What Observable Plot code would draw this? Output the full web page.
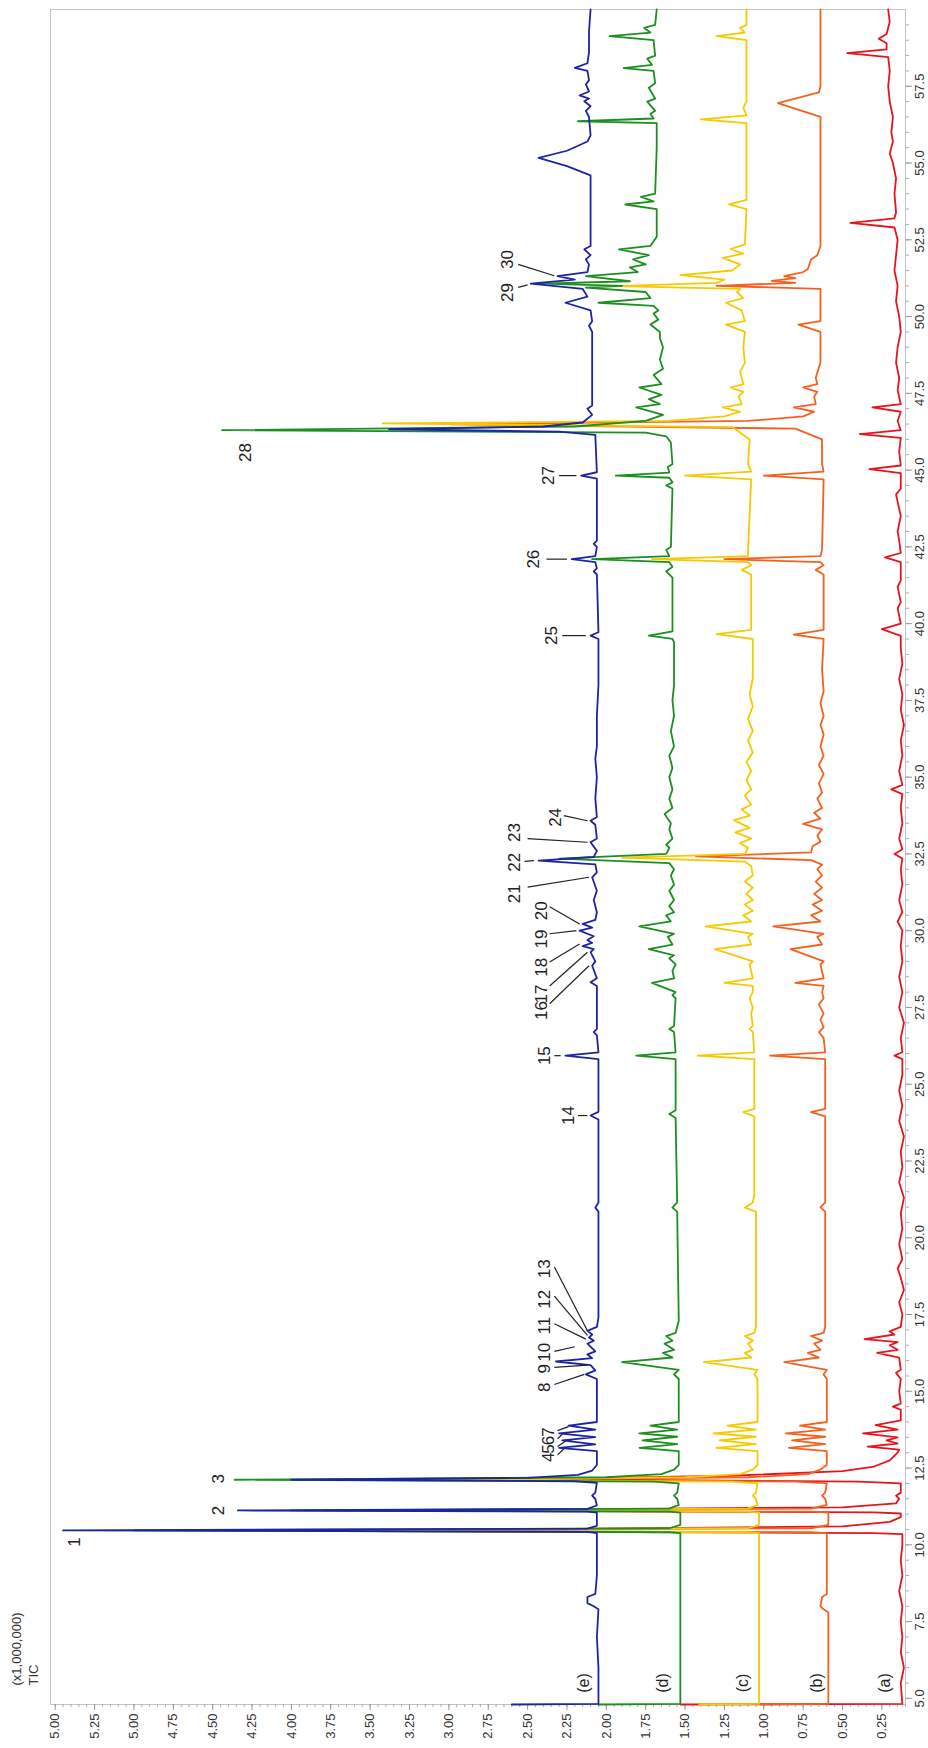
<!DOCTYPE html>
<html><head><meta charset="utf-8">
<script src="https://cdn.jsdelivr.net/npm/d3@7"></script>
<script src="https://cdn.jsdelivr.net/npm/@observablehq/plot@0.6"></script>
<style>body{margin:0;background:#fff;} svg{display:block;}</style>
</head><body><div id="chart"></div>
<script>
// Retention time (min) and TIC intensity (x1,000,000) pairs: [time, intensity]
const traceA = [[4.80,1.53],[4.82,0.12],[5.5,0.13],[6.0,0.11],[6.5,0.13],[7.0,0.12],[7.5,0.13],[8.0,0.12],[8.5,0.14],[9.0,0.12],[9.5,0.13],[10.0,0.12],[10.35,0.12],
[10.38,0.3],[10.45,3.5],[10.6,0.5],[10.75,0.2],[10.9,0.13],[11.02,0.13],
[11.06,0.3],[11.12,3.3],[11.22,0.5],[11.35,0.16],[11.5,0.14],[11.6,0.16],[11.7,0.13],[12.0,0.13],
[12.06,0.4],[12.14,2.47],[12.25,1.2],[12.4,0.5],[12.55,0.3],[12.75,0.2],[13.0,0.15],
[13.1,0.14],[13.2,0.34],[13.3,0.15],[13.4,0.22],[13.5,0.15],[13.63,0.37],[13.75,0.15],[13.9,0.29],[14.05,0.13],[14.4,0.13],[14.5,0.18],[14.6,0.13],[15.0,0.14],[15.4,0.13],[15.6,0.16],[15.7,0.13],
[16.1,0.14],[16.25,0.28],[16.35,0.15],[16.5,0.2],[16.6,0.15],[16.7,0.36],[16.85,0.17],[16.95,0.2],[17.1,0.13],
[17.5,0.12],[17.9,0.14],[18.3,0.11],[18.7,0.13],[19.0,0.15],[19.3,0.12],[19.8,0.14],[20.3,0.12],[20.8,0.13],[21.3,0.11],[21.8,0.14],[22.3,0.12],[22.8,0.13],[23.3,0.11],[23.8,0.14],[24.3,0.12],[24.8,0.14],[25.3,0.12],
[25.82,0.12],[25.93,0.17],[26.04,0.12],[26.5,0.13],[27.0,0.11],[27.5,0.14],[28.0,0.12],[28.5,0.14],[29.0,0.12],[29.5,0.13],[30.0,0.12],[30.3,0.15],[30.6,0.12],[31.0,0.14],[31.5,0.12],[32.0,0.13],
[32.35,0.12],[32.5,0.17],[32.65,0.12],[33.0,0.14],[33.5,0.12],[34.0,0.13],[34.45,0.12],[34.6,0.19],[34.75,0.12],[35.2,0.14],[35.7,0.12],[36.2,0.13],[36.7,0.11],[37.2,0.13],[37.7,0.12],[38.2,0.14],[38.7,0.12],[39.2,0.13],
[39.6,0.13],[39.82,0.25],[40.0,0.13],[40.5,0.15],[40.7,0.13],[41.2,0.15],[41.4,0.13],[42.0,0.13],[42.16,0.23],[42.3,0.13],[42.7,0.14],[43.0,0.15],[43.5,0.13],[44.2,0.16],[44.4,0.13],[44.9,0.13],[45.03,0.33],[45.15,0.13],
[45.6,0.14],[46.05,0.13],[46.17,0.39],[46.3,0.13],[46.6,0.15],[46.9,0.13],[47.04,0.31],[47.15,0.13],[47.6,0.15],[48.0,0.14],[48.5,0.16],[49.0,0.15],[49.5,0.13],[50.0,0.14],[50.5,0.16],[51.0,0.15],[51.5,0.17],[52.0,0.16],[52.5,0.15],
[52.9,0.17],[53.05,0.45],[53.2,0.17],[53.4,0.16],[54.0,0.17],[54.5,0.16],[55.0,0.18],[55.3,0.20],[55.7,0.18],[56.0,0.19],[56.5,0.18],[57.0,0.20],[57.5,0.21],[58.0,0.20],
[58.45,0.21],[58.58,0.47],[58.7,0.22],[58.9,0.22],[59.05,0.27],[59.2,0.22],[59.6,0.20],[60.0,0.21]];

const traceB = [[4.80,1.02],[4.82,0.59],[7.8,0.59],[7.9,0.62],[8.0,0.64],[8.3,0.63],[8.4,0.60],[10.38,0.60],
[10.41,0.7],[10.47,4.0],[10.54,0.7],[10.65,0.59],[11.05,0.59],[11.08,0.7],[11.12,3.5],[11.18,0.7],[11.3,0.60],[11.5,0.61],[11.6,0.63],[11.7,0.61],[12.0,0.60],
[12.06,0.8],[12.12,2.8],[12.2,1.1],[12.3,0.72],[12.45,0.64],[12.6,0.60],
[13.05,0.60],[13.16,0.84],[13.28,0.61],[13.40,0.82],[13.52,0.61],[13.63,0.86],[13.75,0.61],[13.88,0.77],[14.0,0.60],
[15.4,0.60],[15.55,0.62],[15.7,0.60],[15.95,0.87],[16.1,0.65],[16.25,0.72],[16.35,0.64],[16.55,0.68],[16.65,0.63],[16.8,0.70],[16.9,0.62],[17.1,0.61],
[20.85,0.61],[21.0,0.64],[21.15,0.61],[23.95,0.61],[24.09,0.70],[24.2,0.61],[25.82,0.61],[25.93,0.96],[26.04,0.61],[26.5,0.62],[26.7,0.65],[26.85,0.62],[27.1,0.64],[27.3,0.62],[27.6,0.65],[27.8,0.62],[28.0,0.63],
[28.2,0.62],[28.3,0.80],[28.45,0.62],[28.9,0.64],[29.0,0.62],[29.4,0.83],[29.55,0.63],[29.8,0.66],[29.9,0.62],[30.14,0.94],[30.3,0.64],[30.5,0.70],[30.65,0.63],[30.85,0.69],[31.0,0.63],[31.2,0.68],[31.4,0.63],[31.6,0.67],[31.8,0.63],[32.0,0.66],[32.15,0.63],
[32.3,0.70],[32.42,1.43],[32.55,0.70],[32.75,0.69],[32.9,0.64],[33.1,0.66],[33.3,0.63],[33.48,0.75],[33.65,0.64],[33.84,0.68],[34.0,0.63],[34.3,0.66],[34.5,0.63],[34.8,0.65],[35.1,0.62],[35.4,0.65],[35.7,0.62],[36.0,0.64],[36.4,0.62],[36.7,0.64],[37.0,0.62],[37.4,0.64],[37.8,0.62],[38.5,0.63],
[39.5,0.62],[39.64,0.81],[39.8,0.62],[41.6,0.62],[41.75,0.67],[41.9,0.62],[42.0,0.64],[42.1,1.25],[42.2,0.64],[42.4,0.63],[44.7,0.62],[44.82,1.00],[44.95,0.62],[45.2,0.63],[46.0,0.63],
[46.35,0.80],[46.49,2.99],[46.6,1.10],[46.75,0.75],[46.9,0.68],[47.04,0.81],[47.15,0.67],[47.4,0.68],[47.55,0.66],[47.69,0.75],[47.8,0.66],[48.0,0.67],[48.5,0.64],[49.5,0.64],[49.74,0.78],[49.85,0.64],[50.5,0.64],[50.9,0.64],
[51.0,1.30],[51.1,0.80],[51.16,0.95],[51.25,0.80],[51.32,0.87],[51.45,0.75],[51.55,0.72],[51.86,0.70],[52.0,0.66],[52.3,0.64],[56.5,0.64],[56.95,0.91],[57.3,0.65],[57.5,0.64],[60.0,0.64]];

const traceC = [[4.80,1.41],[4.82,1.03],[10.38,1.03],[10.41,1.1],[10.47,4.5],[10.54,1.1],[10.65,1.03],[11.05,1.03],[11.08,1.1],[11.12,3.8],[11.18,1.1],[11.3,1.04],[11.5,1.05],[11.6,1.07],[11.7,1.05],[12.0,1.04],
[12.06,1.2],[12.12,3.2],[12.2,1.5],[12.3,1.15],[12.45,1.07],[12.6,1.04],
[13.05,1.04],[13.16,1.30],[13.28,1.05],[13.40,1.28],[13.52,1.05],[13.63,1.32],[13.75,1.05],[13.88,1.23],[14.0,1.04],
[15.4,1.04],[15.55,1.06],[15.7,1.04],[15.95,1.38],[16.1,1.08],[16.25,1.12],[16.35,1.07],[16.55,1.10],[16.65,1.07],[16.8,1.12],[16.9,1.06],[17.1,1.05],
[20.85,1.05],[20.98,1.12],[21.15,1.07],[21.4,1.06],[23.95,1.06],[24.09,1.13],[24.2,1.06],[25.82,1.06],[25.93,1.42],[26.04,1.06],[26.7,1.07],[26.8,1.09],[26.9,1.07],[27.3,1.08],[27.5,1.07],[27.8,1.09],[28.0,1.07],
[28.2,1.07],[28.3,1.25],[28.45,1.07],[28.9,1.09],[29.0,1.07],[29.4,1.31],[29.55,1.08],[29.8,1.10],[29.9,1.07],[30.14,1.37],[30.3,1.08],[30.5,1.13],[30.65,1.07],[30.85,1.12],[31.0,1.07],[31.2,1.11],[31.4,1.07],[31.6,1.12],[31.8,1.07],[32.1,1.08],
[32.25,1.12],[32.38,1.90],[32.5,1.12],[32.7,1.10],[32.85,1.15],[33.0,1.08],[33.2,1.18],[33.35,1.09],[33.6,1.19],[33.75,1.09],[33.95,1.14],[34.1,1.08],[34.4,1.12],[34.6,1.08],[34.9,1.11],[35.2,1.08],[35.5,1.11],[35.8,1.07],[36.2,1.10],[36.5,1.07],[36.9,1.10],[37.3,1.07],[37.7,1.09],[38.2,1.07],
[39.5,1.07],[39.66,1.30],[39.8,1.08],[41.6,1.08],[41.75,1.14],[41.9,1.08],[42.0,1.10],[42.1,1.71],[42.2,1.10],[42.4,1.10],[44.7,1.08],[44.82,1.50],[44.95,1.08],[45.2,1.10],[46.0,1.09],
[46.4,1.20],[46.52,3.42],[46.6,1.60],[46.75,1.25],[46.9,1.15],[47.04,1.26],[47.15,1.14],[47.4,1.16],[47.55,1.13],[47.69,1.21],[47.8,1.13],[48.2,1.15],[48.5,1.12],[49.0,1.13],[49.5,1.12],[49.74,1.24],[49.85,1.12],
[50.2,1.14],[50.45,1.24],[50.6,1.13],[50.8,1.17],[50.9,1.15],[50.99,1.94],[51.1,1.30],[51.2,1.25],[51.35,1.53],[51.5,1.20],[51.7,1.15],[51.91,1.26],[52.05,1.13],[52.2,1.21],[52.35,1.12],
[53.5,1.11],[53.65,1.22],[53.8,1.11],[56.3,1.11],[56.42,1.40],[56.55,1.11],[56.8,1.13],[57.0,1.11],[59.0,1.11],[59.13,1.30],[59.25,1.12],[59.4,1.15],[59.5,1.11],[60.0,1.11]];

const traceD = [[4.80,2.05],[4.82,1.53],[10.38,1.53],[10.41,1.6],[10.47,5.0],[10.54,1.6],[10.65,1.53],[11.05,1.53],[11.08,1.6],[11.12,4.0],[11.18,1.6],[11.3,1.54],[11.5,1.55],[11.6,1.57],[11.7,1.55],[12.0,1.54],
[12.06,1.7],[12.12,4.36],[12.2,2.0],[12.3,1.65],[12.45,1.57],[12.6,1.54],
[13.05,1.54],[13.16,1.79],[13.28,1.55],[13.40,1.77],[13.52,1.55],[13.63,1.79],[13.75,1.55],[13.88,1.72],[14.0,1.54],
[15.4,1.54],[15.55,1.57],[15.7,1.54],[15.95,1.90],[16.1,1.58],[16.25,1.64],[16.35,1.57],[16.55,1.63],[16.65,1.58],[16.8,1.62],[16.9,1.56],[17.1,1.55],[17.3,1.54],
[20.85,1.55],[20.98,1.58],[21.15,1.55],[23.9,1.56],[24.03,1.60],[24.15,1.56],[25.82,1.56],[25.93,1.81],[26.04,1.56],[26.7,1.57],[26.8,1.60],[26.9,1.57],
[27.8,1.56],[27.9,1.58],[28.0,1.56],[28.3,1.71],[28.45,1.57],[28.7,1.58],[28.9,1.56],[29.1,1.60],[29.2,1.57],[29.4,1.73],[29.55,1.58],[29.8,1.61],[29.9,1.57],[30.14,1.79],[30.3,1.59],[30.5,1.62],[30.6,1.57],[30.8,1.60],[31.0,1.57],[31.3,1.60],[31.5,1.57],[31.8,1.59],[32.0,1.57],
[32.2,1.60],[32.35,2.30],[32.5,1.62],[32.7,1.60],[32.8,1.62],[33.0,1.58],[33.3,1.60],[33.5,1.59],[33.8,1.63],[34.0,1.58],[34.3,1.60],[34.6,1.58],[35.0,1.60],[35.3,1.58],[35.7,1.60],[36.0,1.57],[36.5,1.59],[37.0,1.57],[37.5,1.58],[38.0,1.57],[39.4,1.57],
[39.5,1.58],[39.61,1.73],[39.75,1.58],[40.2,1.58],[41.5,1.58],[41.7,1.62],[41.85,1.58],[42.0,1.60],[42.1,2.09],[42.2,1.60],[42.4,1.62],[42.5,1.59],[44.4,1.58],[44.5,1.62],[44.6,1.58],
[44.75,1.60],[44.82,1.94],[44.92,1.60],[45.1,1.61],[45.2,1.58],[45.9,1.59],[46.1,1.62],
[46.22,1.75],[46.3,4.44],[46.42,2.20],[46.6,1.75],[46.8,1.64],[47.04,1.81],[47.15,1.66],[47.31,1.73],[47.45,1.65],[47.69,1.79],[47.8,1.65],[48.1,1.70],[48.3,1.64],[48.6,1.66],[49.0,1.64],[49.3,1.66],[49.5,1.66],[49.74,1.72],[49.9,1.67],[50.1,1.70],[50.2,1.67],
[50.35,1.70],[50.45,2.05],[50.6,1.72],[50.8,1.75],[50.94,2.13],[51.0,1.90],[51.07,2.41],[51.15,1.85],[51.32,2.13],[51.45,1.80],[51.6,1.85],[51.7,1.75],[51.86,1.83],[52.0,1.73],[52.19,1.92],[52.3,1.72],[52.6,1.68],
[53.5,1.68],[53.65,1.88],[53.75,1.70],[53.9,1.78],[54.0,1.69],[55.5,1.68],[56.3,1.68],[56.36,2.18],[56.45,1.70],[56.6,1.72],[56.7,1.69],[57.0,1.74],[57.1,1.69],[57.45,1.73],[57.6,1.69],[58.0,1.70],[58.09,1.89],[58.2,1.71],[58.4,1.74],[58.5,1.69],[59.0,1.70],[59.13,1.98],[59.25,1.72],[59.4,1.76],[59.5,1.69],[60.0,1.68]];

const traceE = [[4.80,2.60],[4.82,2.05],[6.0,2.05],[7.0,2.06],[7.9,2.05],[8.0,2.08],[8.1,2.12],[8.3,2.12],[8.4,2.07],[9.0,2.06],[10.38,2.06],
[10.42,2.12],[10.47,5.45],[10.53,2.12],[10.62,2.06],
[11.05,2.06],[11.08,2.12],[11.12,4.34],[11.17,2.12],[11.28,2.06],[11.5,2.07],[11.6,2.09],[11.7,2.07],[12.02,2.06],
[12.07,2.2],[12.12,4.00],[12.18,2.5],[12.28,2.18],[12.42,2.09],[12.6,2.06],
[13.05,2.06],[13.16,2.30],[13.27,2.07],[13.40,2.28],[13.51,2.07],[13.63,2.30],[13.75,2.07],[13.88,2.24],[14.0,2.06],
[15.4,2.06],[15.55,2.13],[15.68,2.07],[15.85,2.10],[15.97,2.32],[16.08,2.09],[16.2,2.12],[16.3,2.07],[16.55,2.12],[16.65,2.08],[16.75,2.11],[16.85,2.09],[16.97,2.12],[17.1,2.06],[17.4,2.05],
[20.85,2.05],[20.98,2.07],[21.15,2.05],[23.85,2.05],[23.98,2.10],[24.1,2.05],[25.82,2.05],[25.93,2.26],[26.04,2.05],[26.6,2.06],[26.7,2.08],[26.8,2.06],[27.6,2.06],
[28.2,2.06],[28.32,2.10],[28.45,2.06],[28.86,2.09],[29.0,2.07],[29.3,2.10],[29.4,2.08],[29.5,2.15],[29.6,2.09],[29.7,2.12],[29.82,2.08],[30.0,2.17],[30.1,2.09],[30.22,2.15],[30.35,2.07],[30.6,2.06],[31.0,2.08],[31.3,2.06],[31.74,2.09],[31.9,2.06],
[32.16,2.07],[32.28,2.43],[32.4,2.08],[32.6,2.06],[32.88,2.10],[33.0,2.06],[33.45,2.07],[33.58,2.10],[33.7,2.06],[34.3,2.07],[35.0,2.06],[35.6,2.07],[36.0,2.06],[37.0,2.06],[38.0,2.05],
[39.5,2.05],[39.61,2.10],[39.72,2.05],[41.6,2.06],[41.7,2.08],[41.8,2.06],[42.0,2.07],[42.1,2.22],[42.2,2.07],[42.5,2.06],[42.6,2.08],[42.7,2.06],[44.72,2.06],[44.82,2.16],[44.93,2.06],[46.15,2.07],
[46.25,2.30],[46.33,3.38],[46.42,2.40],[46.55,2.15],[46.8,2.09],[47.0,2.12],[47.1,2.09],[48.0,2.09],[49.5,2.09],[49.7,2.11],[49.85,2.09],
[50.2,2.10],[50.45,2.26],[50.65,2.12],[50.9,2.15],[51.07,2.48],[51.2,2.20],[51.32,2.31],[51.45,2.12],[51.7,2.11],[51.86,2.13],[52.0,2.10],[52.19,2.14],[52.3,2.10],
[54.6,2.10],[54.9,2.25],[55.17,2.43],[55.4,2.25],[55.7,2.12],[55.9,2.10],[56.5,2.11],[56.7,2.13],[56.85,2.10],[57.01,2.14],[57.1,2.11],[57.2,2.17],[57.33,2.11],[57.56,2.13],[57.7,2.11],[58.0,2.12],[58.1,2.20],[58.25,2.12],[58.6,2.11],[59.3,2.11],[60.0,2.10]];

const seriesNames = ["(a)", "(b)", "(c)", "(d)", "(e)"];
const seriesColors = ["#e8141c", "#f6601e", "#f7c900", "#1b8f1f", "#1d24a3"];
const seriesLabelIntensity = [0.23, 0.66, 1.13, 1.64, 2.145];
const seriesLabelTime = [5.5, 5.5, 5.5, 5.5, 5.5];

const peakNames = ["1","2","3","4","5","6","7","8","9","10","11","12","13","14","15","16","17","18","19","20","21","22","23","24","25","26","27","28","29","30"];
const peakLabelTime = [10.09,11.12,12.15,12.85,13.12,13.40,13.67,15.13,15.73,16.27,17.14,18.0,18.99,23.98,25.93,27.40,27.94,28.81,29.73,30.65,31.2,32.23,33.2,33.69,39.61,42.1,44.82,45.57,50.78,51.86];
const peakLabelIntensity = [5.38,4.46,4.46,2.37,2.37,2.37,2.37,2.39,2.39,2.39,2.39,2.39,2.39,2.24,2.39,2.41,2.41,2.41,2.41,2.41,2.58,2.58,2.58,2.32,2.35,2.46,2.37,4.29,2.63,2.63];

// leader lines: label end -> peak
const leaderFromTime = [12.93,13.2,13.45,13.72,15.22,15.78,16.3,17.2,18.1,19.05,23.98,25.93,27.62,28.2,28.98,29.9,30.78,31.42,32.26,33.0,33.75,39.61,42.1,44.82,50.95,51.7];
const leaderFromIntensity = [2.31,2.31,2.31,2.31,2.33,2.33,2.33,2.33,2.33,2.33,2.18,2.33,2.36,2.36,2.36,2.36,2.36,2.5,2.52,2.5,2.27,2.28,2.38,2.3,2.56,2.56];
const leaderToTime = [13.12,13.37,13.6,13.85,15.55,15.85,16.45,16.7,16.82,16.97,23.98,25.93,28.86,29.3,29.57,30.0,30.22,31.74,32.28,32.88,33.58,39.61,42.1,44.82,51.03,51.33];
const leaderToIntensity = [2.27,2.26,2.28,2.24,2.14,2.12,2.2,2.13,2.12,2.12,2.12,2.29,2.11,2.12,2.17,2.19,2.17,2.11,2.46,2.12,2.12,2.13,2.25,2.19,2.5,2.33];

const intensityTicks = [0.25,0.5,0.75,1.0,1.25,1.5,1.75,2.0,2.25,2.5,2.75,3.0,3.25,3.5,3.75,4.0,4.25,4.5,4.75,5.0,5.25,5.5];
const intensityTickLabels = ["0.25","0.50","0.75","1.00","1.25","1.50","1.75","2.00","2.25","2.50","2.75","3.00","3.25","3.50","3.75","4.00","4.25","4.50","4.75","5.00","5.25","5.00"];
const timeTicks = [5,7.5,10,12.5,15,17.5,20,22.5,25,27.5,30,32.5,35,37.5,40,42.5,45,47.5,50,52.5,55,57.5];
const timeTickLabels = ["5.0","7.5","10.0","12.5","15.0","17.5","20.0","22.5","25.0","27.5","30.0","32.5","35.0","37.5","40.0","42.5","45.0","47.5","50.0","52.5","55.0","57.5"];
const titleLines = ["(x1,000,000)", "TIC"];

const traces = [traceA, traceB, traceC, traceD, traceE];
const intensityLabelMap = new Map(intensityTicks.map((d, i) => [d, intensityTickLabels[i]]));
const timeLabelMap = new Map(timeTicks.map((d, i) => [d, timeTickLabels[i]]));
const minorIntensity = d3.range(10, 551, 5).map(d => d / 100);
const minorTime = d3.range(10, 120, 1).map(d => d / 2);
const leaderIdx = leaderFromTime.map((d, i) => i);
const font = "'Liberation Sans', Arial, Helvetica, sans-serif";

const chart = Plot.plot({
  width: 928, height: 1748,
  marginLeft: 50, marginRight: 23, marginTop: 9, marginBottom: 44,
  style: {fontFamily: font, background: "#fff", color: "#333"},
  x: {domain: [5.53, 0.10], axis: null},
  y: {domain: [4.8, 60], axis: null},
  marks: [
    Plot.frame({stroke: "#c4c4c4"}),
    Plot.axisX({anchor: "bottom", ticks: minorIntensity, tickSize: 3, tickFormat: () => "", stroke: "#aaa", label: null}),
    Plot.axisX({anchor: "bottom", ticks: intensityTicks, tickSize: 6, tickRotate: -90, textAnchor: "end", lineAnchor: "middle", tickPadding: 3,
      tickFormat: d => intensityLabelMap.get(d), fontSize: 13, stroke: "#999", fill: "#333", label: null}),
    Plot.axisY({anchor: "right", ticks: minorTime, tickSize: 3, tickFormat: () => "", stroke: "#aaa", label: null}),
    Plot.axisY({anchor: "right", ticks: timeTicks, tickSize: 6, tickRotate: -90, textAnchor: "middle", lineAnchor: "top", tickPadding: 3,
      tickFormat: d => timeLabelMap.get(d), fontSize: 13, stroke: "#999", fill: "#333", label: null}),
    ...traces.map((tr, i) => Plot.line(tr, {x: d => d[1], y: d => d[0], stroke: seriesColors[i], strokeWidth: 1.8, strokeLinejoin: "round"})),
    Plot.link(leaderIdx, {x1: i => leaderFromIntensity[i], y1: i => leaderFromTime[i], x2: i => leaderToIntensity[i], y2: i => leaderToTime[i], stroke: "#222", strokeWidth: 1.2}),
    Plot.text(peakNames, {x: (d, i) => peakLabelIntensity[i], y: (d, i) => peakLabelTime[i], text: d => d, rotate: -90, fontSize: 17, fill: "#222"}),
    Plot.text(seriesNames, {x: (d, i) => seriesLabelIntensity[i], y: (d, i) => seriesLabelTime[i], text: d => d, rotate: -90, fontSize: 16, fill: "#222"}),
    Plot.text([titleLines[0]], {frameAnchor: "bottom-left", dx: -30, dy: -19, rotate: -90, textAnchor: "start", fontSize: 13, fill: "#333", text: d => d}),
    Plot.text([titleLines[1]], {frameAnchor: "bottom-left", dx: -13, dy: -19, rotate: -90, textAnchor: "start", fontSize: 13, fill: "#333", text: d => d})
  ]
});
document.getElementById("chart").appendChild(chart);
</script>
</body></html>
